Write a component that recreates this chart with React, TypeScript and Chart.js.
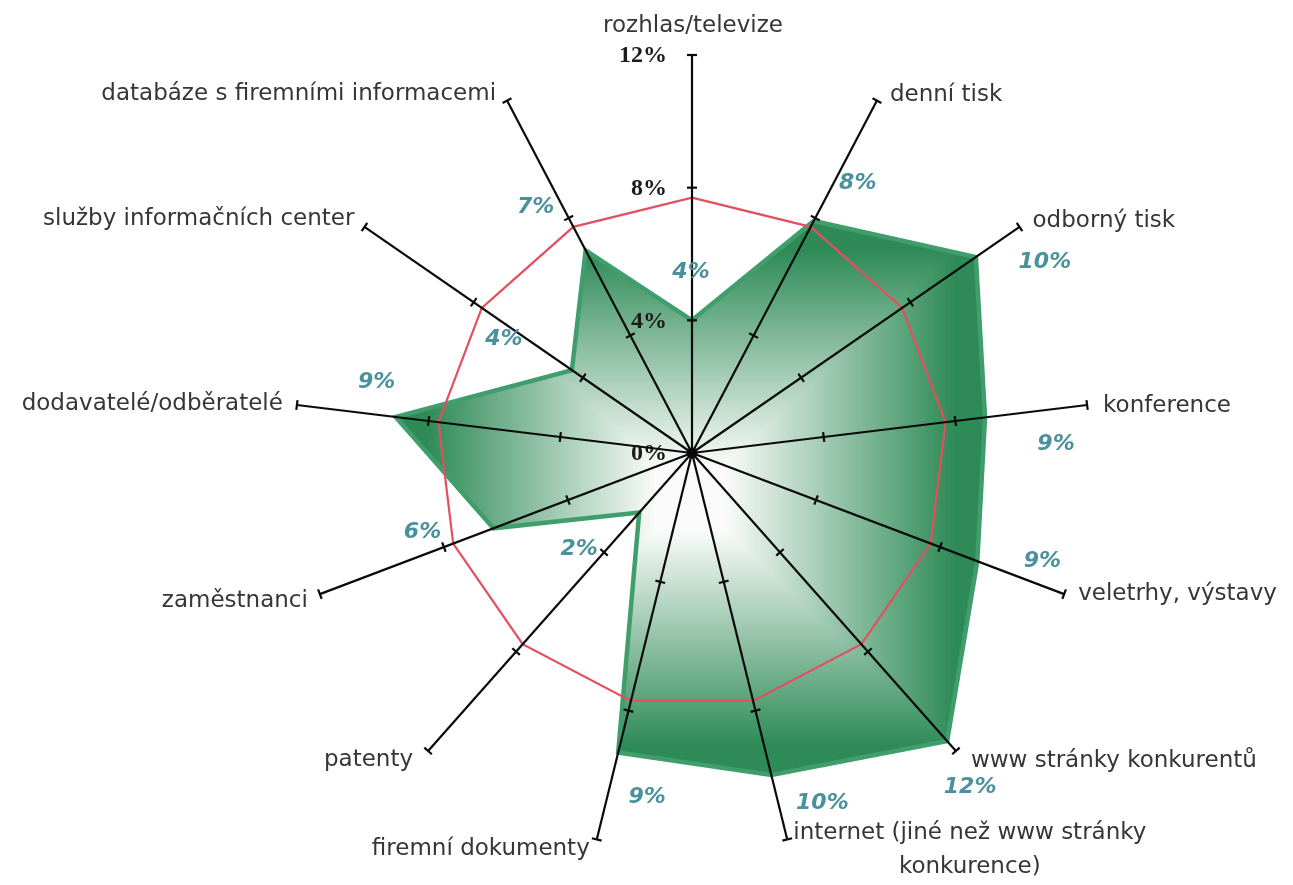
import { useEffect, useRef } from "react";
import { Chart, registerables } from "chart.js";

Chart.register(...registerables);

// Sources of information, clockwise from the top spoke
const categories: (string | string[])[] = [
  "rozhlas/televize",
  "denní tisk",
  "odborný tisk",
  "konference",
  "veletrhy, výstavy",
  "www stránky konkurentů",
  ["internet (jiné než www stránky", "konkurence)"],
  "firemní dokumenty",
  "patenty",
  "zaměstnanci",
  "dodavatelé/odběratelé",
  "služby informačních center",
  "databáze s firemními informacemi",
];

// Share of each source, in percent
const shares = [4.0, 7.9, 10.4, 8.9, 9.2, 11.6, 10.0, 9.3, 2.4, 6.4, 9.0, 4.4, 6.9];

// Average share across all sources
const averageShare = [7.7, 7.7, 7.7, 7.7, 7.7, 7.7, 7.7, 7.7, 7.7, 7.7, 7.7, 7.7, 7.7];

// Axis tick values (percent)
const axisTicks = [0, 4, 8, 12];
const axisMax = 12;

// Category label placement relative to the spoke end: [align, dx, dy]
const categoryLabelPlacement: [CanvasTextAlign, number, number][] = [
  ["center", 1, -23],
  ["left", 13, 0],
  ["left", 13, 0],
  ["left", 16, 7],
  ["left", 14, 6],
  ["left", 15, 16],
  ["left", 6, 0],
  ["right", -7, 16],
  ["right", -15, 15],
  ["right", -12, 13],
  ["right", -14, 5],
  ["right", -10, -2],
  ["right", -11, -1],
];

// Value label placement relative to the data point: [dx, dy]
const valueLabelOffset: [number, number][] = [
  [-1, -48],
  [44, -38],
  [69, 5],
  [71, 27],
  [65, 0],
  [23, 46],
  [51, 28],
  [29, 45],
  [-60, 37],
  [-71, 4],
  [-19, -35],
  [-68, -31],
  [-50, -43],
];

const LABEL_FONT = "23px 'DejaVu Sans', Verdana, sans-serif";
const VALUE_FONT = "italic bold 22px 'DejaVu Sans', Verdana, sans-serif";
const TICK_FONT = "bold 24px 'Liberation Serif', 'Times New Roman', serif";

// Colour of the rectangular path gradient at fraction s from its centre
function shade(s: number): string {
  const t = Math.min(1, Math.max(0, (s - 0.12) / 0.78));
  const from = [250, 251, 250];
  const to = [46, 139, 87];
  const c = from.map((f, k) => Math.round(f + (to[k] - f) * t));
  return `rgb(${c[0]},${c[1]},${c[2]})`;
}

// Fills the share polygon with a white-to-green gradient running from the
// centre of its bounding box outwards
const pathGradientFill = {
  id: "pathGradientFill",
  beforeDatasetsDraw(chart: any) {
    const scale = chart.scales.r;
    const ctx: CanvasRenderingContext2D = chart.ctx;
    const pts = shares.map((v, i) => scale.getPointPositionForValue(i, v));
    const xs = pts.map((p: any) => p.x);
    const ys = pts.map((p: any) => p.y);
    const minX = Math.min(...xs);
    const maxX = Math.max(...xs);
    const minY = Math.min(...ys);
    const maxY = Math.max(...ys);
    const cx = (minX + maxX) / 2;
    const cy = (minY + maxY) / 2;
    const hw = (maxX - minX) / 2;
    const hh = (maxY - minY) / 2;

    ctx.save();
    ctx.beginPath();
    pts.forEach((p: any, i: number) => (i ? ctx.lineTo(p.x, p.y) : ctx.moveTo(p.x, p.y)));
    ctx.closePath();
    ctx.clip();
    const steps = 140;
    for (let k = steps; k >= 1; k--) {
      const s = k / steps;
      ctx.fillStyle = shade(s);
      const pad = k === steps ? 4 : 0;
      ctx.fillRect(cx - s * hw - pad, cy - s * hh - pad, 2 * s * hw + 2 * pad, 2 * s * hh + 2 * pad);
    }
    ctx.restore();
  },
};

// Spokes with tick marks, tick labels, category labels and value labels
const radarDecor = {
  id: "radarDecor",
  afterDatasetsDraw(chart: any) {
    const scale = chart.scales.r;
    const ctx: CanvasRenderingContext2D = chart.ctx;
    const n = categories.length;
    ctx.save();

    // tick labels along the top spoke
    ctx.font = TICK_FONT;
    ctx.fillStyle = "#1c1c1c";
    ctx.textAlign = "right";
    ctx.textBaseline = "middle";
    axisTicks.forEach((t) => {
      const p = scale.getPointPositionForValue(0, t);
      ctx.fillText(`${t}%`, p.x - 25, p.y + 1);
    });

    // spokes and tick marks
    ctx.strokeStyle = "#0a0a0a";
    ctx.lineWidth = 2.2;
    ctx.lineCap = "butt";
    for (let i = 0; i < n; i++) {
      const c = scale.getPointPositionForValue(i, 0);
      const e = scale.getPointPositionForValue(i, axisMax);
      ctx.beginPath();
      ctx.moveTo(c.x, c.y);
      ctx.lineTo(e.x, e.y);
      ctx.stroke();
      const px = -Math.sin(e.angle);
      const py = Math.cos(e.angle);
      axisTicks.slice(1).forEach((t) => {
        const p = scale.getPointPositionForValue(i, t);
        const h = 5;
        ctx.beginPath();
        ctx.moveTo(p.x - px * h, p.y - py * h);
        ctx.lineTo(p.x + px * h, p.y + py * h);
        ctx.stroke();
      });
    }

    // hub
    ctx.fillStyle = "#0a0a0a";
    ctx.beginPath();
    ctx.arc(scale.xCenter, scale.yCenter, 5.5, 0, Math.PI * 2);
    ctx.fill();

    // category labels
    ctx.font = LABEL_FONT;
    ctx.fillStyle = "#363636";
    ctx.textBaseline = "alphabetic";
    categories.forEach((label, i) => {
      const e = scale.getPointPositionForValue(i, axisMax);
      const [align, dx, dy] = categoryLabelPlacement[i];
      if (Array.isArray(label)) {
        const w = ctx.measureText(label[0]).width;
        const mid = e.x + dx + w / 2;
        ctx.textAlign = "center";
        label.forEach((line, k) => ctx.fillText(line, mid, e.y + dy + k * 34));
      } else {
        ctx.textAlign = align;
        ctx.fillText(label, e.x + dx, e.y + dy);
      }
    });

    // value labels
    ctx.font = VALUE_FONT;
    ctx.fillStyle = "#4a919d";
    ctx.textAlign = "center";
    ctx.textBaseline = "middle";
    shares.forEach((v, i) => {
      const p = scale.getPointPositionForValue(i, v);
      const [dx, dy] = valueLabelOffset[i];
      ctx.fillText(`${Math.round(v)}%`, p.x + dx, p.y + dy);
    });

    ctx.restore();
  },
};

export default function App() {
  const canvasRef = useRef<HTMLCanvasElement | null>(null);

  useEffect(() => {
    const canvas = canvasRef.current;
    if (!canvas) return;
    const chart = new Chart(canvas, {
      type: "radar",
      data: {
        labels: categories as any,
        datasets: [
          {
            label: "průměr",
            data: averageShare,
            borderColor: "#e2505e",
            borderWidth: 2.2,
            backgroundColor: "transparent",
            fill: false,
            pointRadius: 0,
            borderJoinStyle: "miter",
            order: 0,
          },
          {
            label: "podíl",
            data: shares,
            borderColor: "#3f9e6c",
            borderWidth: 4.5,
            backgroundColor: "transparent",
            fill: false,
            pointRadius: 0,
            borderJoinStyle: "miter",
            order: 1,
          },
        ],
      },
      options: {
        responsive: false,
        devicePixelRatio: 1,
        animation: false,
        layout: { padding: { left: 294, right: 203, top: 55, bottom: 34 } },
        plugins: {
          legend: { display: false },
          tooltip: { enabled: false },
        },
        scales: {
          r: {
            min: 0,
            max: axisMax,
            startAngle: 0,
            ticks: { display: false, stepSize: 4 },
            grid: { display: false },
            angleLines: { display: false },
            pointLabels: { display: false },
          },
        },
      },
      plugins: [pathGradientFill, radarDecor],
    } as any);
    return () => chart.destroy();
  }, []);

  return (
    <div
      style={{
        position: "fixed",
        left: 0,
        top: 0,
        width: 1293,
        height: 885,
        background: "#ffffff",
      }}
    >
      <canvas ref={canvasRef} width={1293} height={885} style={{ display: "block" }} />
    </div>
  );
}
